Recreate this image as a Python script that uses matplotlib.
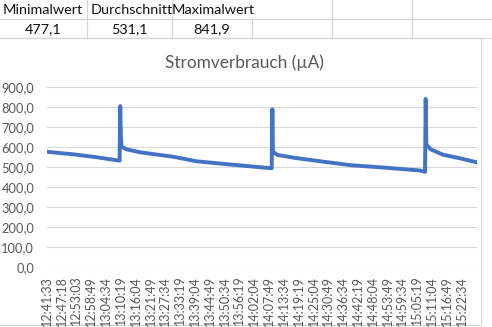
import matplotlib
matplotlib.use("Agg")
from matplotlib import pyplot as plt
from matplotlib.lines import Line2D
from matplotlib.patches import Rectangle

# Kennwerte aus der Tabelle oben
kopf = ["Minimalwert", "Durchschnitt", "Maximalwert"]
kennwerte = ["477,1", "531,1", "841,9"]

# Messpunkte: Uhrzeit und Strom in µA
zeiten = ["12:41:33", "12:46:00", "12:51:45", "13:01:04", "13:09:50",
          "13:10:05", "13:10:20", "13:10:35", "13:12:30", "13:17:43",
          "13:30:33", "13:39:45", "13:51:54", "14:08:51", "14:09:06",
          "14:09:21", "14:11:00", "14:17:53", "14:30:42", "14:39:53",
          "14:52:02", "15:06:23", "15:08:20", "15:08:35", "15:08:50",
          "15:10:30", "15:15:18", "15:21:54", "15:28:23"]
strom = [578, 572, 565, 550, 533,
         806, 655, 603, 590, 575,
         553, 530, 515, 495, 790,
         578, 562, 547, 525, 510,
         499, 484, 477.1, 841.9, 615,
         590, 563, 545, 525]

achs_zeiten = ["12:41:33", "12:47:18", "12:53:03", "12:58:49", "13:04:34",
               "13:10:19", "13:16:04", "13:21:49", "13:27:34", "13:33:19",
               "13:39:04", "13:44:49", "13:50:34", "13:56:19", "14:02:04",
               "14:07:49", "14:13:34", "14:19:19", "14:25:04", "14:30:49",
               "14:36:34", "14:42:19", "14:48:04", "14:53:49", "14:59:34",
               "15:05:19", "15:11:04", "15:16:49", "15:22:34"]
y_ticks = [0, 100, 200, 300, 400, 500, 600, 700, 800, 900]


def sekunden(t):
    h, m, s = t.split(":")
    return int(h) * 3600 + int(m) * 60 + int(s)


W, H = 492, 327
GRAU = "#595959"
LINIE = "#D9D9D9"
ZELLE = "#D4D4D4"
FONT = "Lato"


def fx(px):
    return px / W


def fy(py):
    return 1 - py / H


fig = plt.figure(figsize=(W / 100, H / 100), dpi=100)
fig.patch.set_facecolor("white")

# Tabellenraster
for y in (19, 38):
    fig.add_artist(Line2D([0, 1], [fy(y), fy(y)], color=ZELLE, lw=0.8))
for x in (87, 172, 332, 412):
    fig.add_artist(Line2D([fx(x), fx(x)], [fy(0), fy(38)], color=ZELLE, lw=0.8))
fig.add_artist(Line2D([fx(252), fx(252)], [fy(19), fy(38)], color=ZELLE, lw=0.8))

for x, txt in zip((3, 91, 172), kopf):
    fig.text(fx(x), fy(10), txt, ha="left", va="center", fontsize=10.4,
             family=FONT, color="#111111")
for x, txt in zip((43.5, 129.5, 212), kennwerte):
    fig.text(fx(x), fy(29), txt, ha="center", va="center", fontsize=10.4,
             family=FONT, color="#111111")

# Diagrammbereich
rahmen = Rectangle((fx(-2), fy(325)), fx(483), fy(38) - fy(325),
                   facecolor="white", edgecolor=LINIE, lw=0.8, zorder=-5)
fig.add_artist(rahmen)

fig.text(fx(244), fy(63), "Stromverbrauch (µA)", ha="center", va="center",
         fontsize=12.4, family=FONT, color=GRAU)

ax = fig.add_axes([fx(46.7), fy(267.3), fx(430), fy(87.3) - fy(267.3)])
ax.set_zorder(3)
ax.patch.set_alpha(0)

t0 = sekunden(zeiten[0])
x = [sekunden(t) - t0 for t in zeiten]
ax.plot(x, strom, color="#4472C4", lw=2.8, solid_joinstyle="round")

ax.set_xlim(x[0], x[-1])
ax.set_ylim(0, 900)
ax.set_yticks(y_ticks)
ax.set_yticklabels([f"{v:.1f}".replace(".", ",") for v in y_ticks],
                   family=FONT, fontsize=9.3, color=GRAU)
ax.set_xticks([sekunden(t) - t0 for t in achs_zeiten])
ax.set_xticklabels(achs_zeiten, rotation=90, family=FONT, fontsize=9.0,
                   color=GRAU)
ax.tick_params(axis="both", length=0)
ax.tick_params(axis="y", pad=9)
ax.tick_params(axis="x", pad=6)
ax.grid(axis="y", color=LINIE, lw=0.8)
ax.set_axisbelow(True)
for s in ax.spines.values():
    s.set_visible(False)

fig.savefig("out.png", dpi=100)
